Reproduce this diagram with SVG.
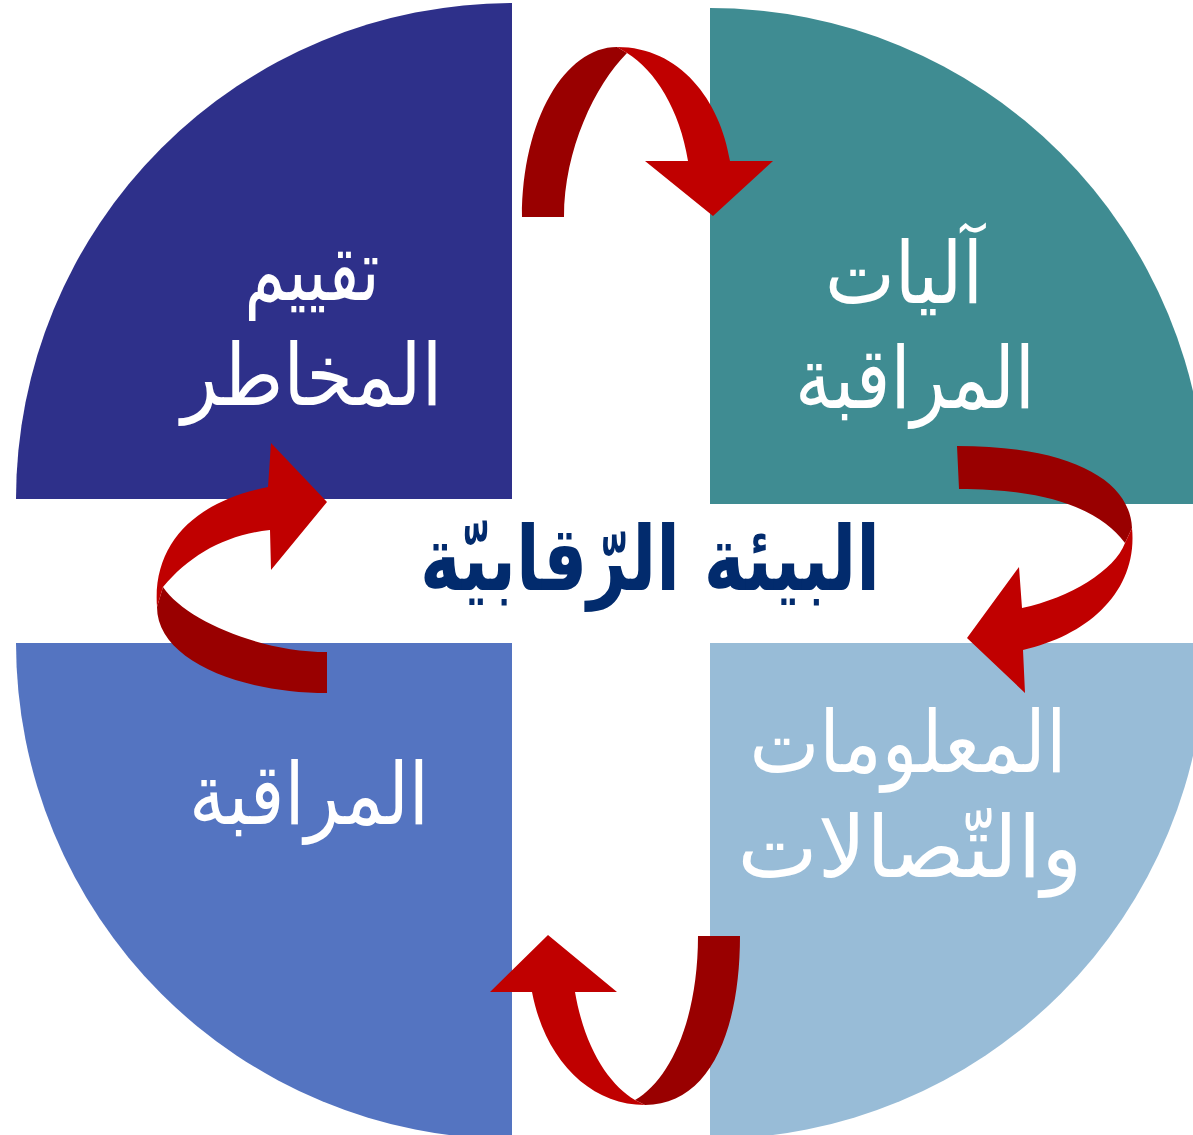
<svg xmlns="http://www.w3.org/2000/svg" width="1193" height="1135" viewBox="0 0 1193 1135">
  <style>
    .label { font-family: "DejaVu Sans", "Liberation Sans", sans-serif; fill: #ffffff; font-size: 86px; text-anchor: middle; direction: rtl; }
    .title { font-family: "DejaVu Sans", "Liberation Sans", sans-serif; fill: #022B6D; font-size: 90px; font-weight: bold; text-anchor: middle; direction: rtl; }
    .back { fill: #990000; }
    .front { fill: #C00000; }
  </style>
  <rect width="1193" height="1135" fill="#ffffff"/>

  <!-- quadrants of the circle -->
  <g id="risk-assessment">
    <path d="M512,499 L16,499 A496,496 0 0 1 512,3 Z" fill="#2E308A"/>
    <text class="label" x="312" y="300" textLength="135" lengthAdjust="spacingAndGlyphs">تقييم</text>
    <text class="label" x="312" y="405" textLength="261" lengthAdjust="spacingAndGlyphs">المخاطر</text>
  </g>
  <g id="control-activities">
    <path d="M710,504 L710,8 A496,496 0 0 1 1206,504 Z" fill="#3F8C92"/>
    <text class="label" x="904" y="303" textLength="158" lengthAdjust="spacingAndGlyphs">آليات</text>
    <text class="label" x="915" y="408" textLength="240" lengthAdjust="spacingAndGlyphs">المراقبة</text>
  </g>
  <g id="monitoring">
    <path d="M512,643 L512,1139 A496,496 0 0 1 16,643 Z" fill="#5474C1"/>
    <text class="label" x="309" y="824" textLength="240" lengthAdjust="spacingAndGlyphs">المراقبة</text>
  </g>
  <g id="information-communication">
    <path d="M710,643 L1206,643 A496,496 0 0 1 710,1139 Z" fill="#98BCD7"/>
    <text class="label" x="908" y="772" textLength="317" lengthAdjust="spacingAndGlyphs">المعلومات</text>
    <text class="label" x="910" y="877" textLength="345" lengthAdjust="spacingAndGlyphs">والتّصالات</text>
  </g>

  <!-- curved arrows between the quadrants -->
  <g id="connectors">
    <!-- top: risk assessment to control activities -->
    <path class="back" d="M522,217 L564,217 C564,150 595,85 627,53 L617,47 C565,47 522,120 522,217 Z"/>
    <path class="front" d="M617,47 C680,47 720,100 730,161 L773,161 L713,216 L645,161 L688,161 C680,110 655,70 627,53 Z"/>
    <!-- right: control activities to information -->
    <path class="back" d="M957,446 C1070,446 1130,480 1132,528 L1125,543 C1100,510 1050,489 959,489 Z"/>
    <path class="front" d="M1132,528 C1138,590 1090,635 1023,650 L1025,693 L967,638 L1019,567 L1022,608 C1070,598 1115,570 1125,543 Z"/>
    <!-- bottom: information to monitoring -->
    <path class="back" d="M698,936 L740,936 C740,1030 710,1105 645,1105 L635,1100 C670,1080 698,1020 698,936 Z"/>
    <path class="front" d="M645,1105 C590,1105 545,1060 532,992 L490,992 L548,935 L617,992 L575,992 C585,1050 610,1085 635,1100 Z"/>
    <!-- left: monitoring to risk assessment -->
    <path class="back" d="M327,652 L327,693 C240,693 157,660 157,607 L163,587 C185,620 260,652 327,652 Z"/>
    <path class="front" d="M157,607 C152,540 200,500 268,487 L271,443 L327,502 L271,570 L270,530 C225,535 190,555 163,587 Z"/>
  </g>

  <g id="control-environment">
    <text class="title" x="650" y="590" textLength="460" lengthAdjust="spacingAndGlyphs">البيئة الرّقابيّة</text>
  </g>
</svg>
